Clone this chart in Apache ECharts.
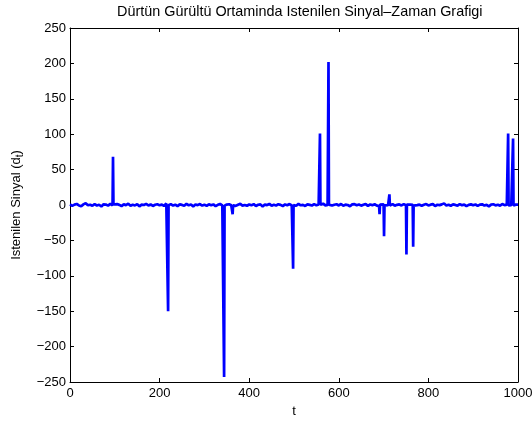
<!DOCTYPE html>
<html><head><meta charset="utf-8">
<script src="https://cdn.jsdelivr.net/npm/echarts@6/dist/echarts.min.js"></script>
<style>html,body{margin:0;padding:0;background:#fff}#c{width:532px;height:421px}</style>
</head><body><div id="c"></div>
<script>
// baseline noise samples [t, value]
var noise = [
[0,0.8],[5,-1.2],[10,0.5],[15,1.4],[20,-0.6],[25,-1.8],[30,0.9],[35,2.6],[40,-0.3],[45,0.4],[50,-1.1],[55,1.2],[60,-0.7],[65,0.3],[70,-2.1],[75,1.0],[80,0.6],[85,-0.9],[90,1.5],[95,-0.4],[97,0.7],
[100,-0.8],[105,1.3],[110,0.2],[115,-1.5],[120,0.9],[125,-0.2],[130,1.8],[135,-1.0],[140,0.4],[145,-0.6],[150,1.1],[155,-1.9],[160,0.5],[165,0.0],[170,1.6],[175,-0.7],[180,0.8],[185,-1.3],[190,0.3],[195,1.0],
[200,-0.5],[205,0.7],[210,-1.4],[215,2.2],[218,0.6],[220,-0.3],[225,1.2],[230,-0.8],[235,0.4],[240,-1.6],[245,0.9],[250,0.1],[255,-1.1],[260,1.7],[265,-0.4],[270,0.6],[275,-2.0],[280,0.8],[285,-0.2],[290,1.3],[295,-0.9],
[300,0.5],[305,-1.2],[310,1.0],[315,-0.3],[320,0.8],[325,-1.7],[330,0.2],[335,1.4],[340,-0.6],[343,0.3],[345,-0.9],[350,0.6],[355,1.1],[360,-0.4],[362,0.2],[364,-0.5],[365,0.9],[370,-1.3],[375,0.4],[380,1.6],[385,-0.8],[390,0.0],[395,-1.1],
[400,0.7],[405,-0.5],[410,1.2],[415,-1.4],[420,0.3],[425,0.9],[430,-2.2],[435,0.6],[440,-0.1],[445,1.5],[450,-0.9],[455,0.4],[460,-0.6],[465,1.0],[470,0.2],[475,-1.5],[480,0.8],[485,-0.3],[490,1.3],[495,-0.7],[497,0.5],[499,-0.2],
[500,0.6],[505,-1.0],[510,1.7],[515,-0.4],[520,0.2],[525,-1.3],[530,0.9],[535,0.1],[540,-0.7],[545,1.2],[550,-0.5],[555,0.8],[557,-1.2],[559,0.4],[560,-0.3],[565,1.9],[570,-0.6],[575,0.2],[576,-1.4],[578,0.5],[580,1.1],[585,-0.8],[590,0.3],[595,1.0],
[600,-0.6],[605,1.4],[610,-1.1],[615,0.5],[620,0.0],[625,-1.7],[630,0.8],[635,1.2],[640,-0.4],[645,0.6],[650,-0.9],[655,0.3],[660,1.5],[665,-1.2],[670,0.7],[675,-0.2],[680,1.0],[685,-0.8],[690,-1.5],[692,0.4],[695,-0.6],
[700,0.9],[702,-0.5],[705,1.1],[710,-0.3],[712,0.6],[714,-0.8],[715,0.4],[720,1.3],[725,-1.0],[730,0.2],[735,0.8],[740,-0.6],[745,1.2],[750,-0.4],[752,0.5],[755,-1.3],[760,0.7],[765,0.3],[767,-0.9],[770,1.0],[775,-0.2],[780,0.6],[785,-1.1],[790,0.4],[795,1.4],
[800,-0.7],[805,0.5],[810,1.2],[815,-1.5],[820,0.3],[825,-0.2],[830,0.9],[835,2.3],[840,-0.6],[845,0.4],[850,-1.1],[855,0.8],[860,0.1],[865,-0.9],[870,1.3],[875,-0.4],[880,0.6],[885,-1.6],[890,0.2],[895,0.9],
[900,-0.3],[905,0.7],[910,-1.2],[915,0.5],[920,1.0],[925,-0.8],[930,0.2],[935,-1.9],[940,0.6],[945,1.1],[950,-0.5],[955,0.3],[960,-0.9],[965,1.4],[970,-0.2],[975,0.6],[977,0.4],[979,-0.7],[980,0.8],[985,-0.3],[988,1.0],[990,-0.6],[995,0.5],
[1000,0.4]
];
// impulses
var spikeT = [96, 219, 344, 363, 498, 558, 577, 691, 701, 713, 751, 766, 978, 989];
var spikeD = [68, -150, -243, -13, -90, 101, 202, -13, -44, 15, -70, -59, 101, 94];
var xTicks = [0, 200, 400, 600, 800, 1000];
var yTicks = [-250, -200, -150, -100, -50, 0, 50, 100, 150, 200, 250];

var pts = noise.slice();
for (var i = 0; i < spikeT.length; i++) pts.push([spikeT[i], spikeD[i]]);
pts.sort(function(a, b){ return a[0] - b[0]; });

var font = 'Liberation Sans, Arial, Helvetica, sans-serif';
var fmt = function(v){ return String(v).replace('-', '\u2212'); };
var chart = echarts.init(document.getElementById('c'), null, {renderer: 'canvas'});
var axisCommon = {
  axisLine: {show: true, onZero: false, lineStyle: {color: '#000', width: 1}},
  axisTick: {show: true, inside: true, length: 4, lineStyle: {color: '#000'}},
  splitLine: {show: false}
};
chart.setOption({
  animation: false,
  backgroundColor: '#fff',
  title: {text: 'Dürtün Gürültü Ortaminda Istenilen Sinyal\u2013Zaman Grafigi', left: 112, top: 0,
    textStyle: {fontFamily: font, fontSize: 14.4, fontWeight: 'normal', color: '#000'}},
  grid: {left: 70, right: 14, top: 28, bottom: 39, containLabel: false, outerBoundsMode: 'none'},
  xAxis: [
    Object.assign({type: 'value', min: xTicks[0], max: xTicks[xTicks.length-1], interval: 200, position: 'bottom',
      name: 't', nameLocation: 'middle', nameGap: 18,
      nameTextStyle: {fontFamily: font, fontSize: 13, color: '#000'},
      axisLabel: {fontFamily: font, fontSize: 13, color: '#000', margin: 5, formatter: fmt}}, axisCommon),
    Object.assign({type: 'value', min: xTicks[0], max: xTicks[xTicks.length-1], interval: 200, position: 'top',
      axisLabel: {show: false}}, axisCommon)
  ],
  yAxis: [
    Object.assign({type: 'value', min: yTicks[0], max: yTicks[yTicks.length-1], interval: 50, position: 'left',
      name: '{a|Istenilen Sinyal (d}{s|t}{a|)}', nameLocation: 'middle', nameGap: 45,
      nameTextStyle: {rich: {a: {fontFamily: font, fontSize: 13, color: '#000'}, s: {fontFamily: font, fontSize: 10, color: '#000', verticalAlign: 'bottom', padding: [7,0,0,0]}}},
      axisLabel: {fontFamily: font, fontSize: 13, color: '#000', margin: 4, formatter: fmt}}, axisCommon),
    Object.assign({type: 'value', min: yTicks[0], max: yTicks[yTicks.length-1], interval: 50, position: 'right',
      axisLabel: {show: false}}, axisCommon)
  ],
  series: [{
    type: 'line', data: pts, showSymbol: false, symbol: 'none',
    lineStyle: {color: '#0000ff', width: 2.7}, xAxisIndex: 0, yAxisIndex: 0
  }]
});
</script></body></html>
